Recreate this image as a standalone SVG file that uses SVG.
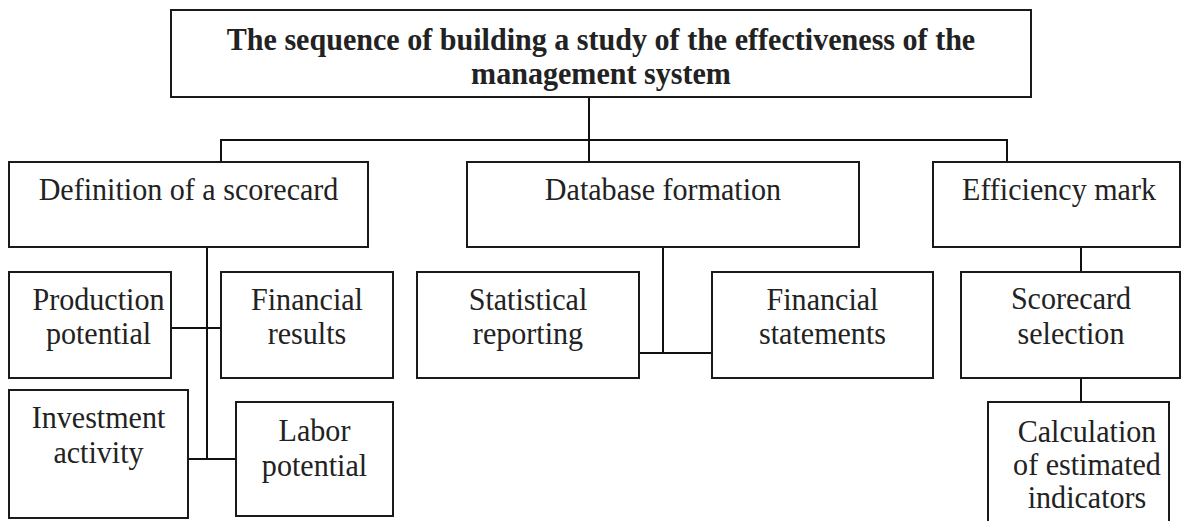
<svg xmlns="http://www.w3.org/2000/svg" width="1182" height="521" viewBox="0 0 1182 521">
  <style>
    .box { fill: #ffffff; stroke: #1a1a1a; stroke-width: 2; }
    .link { fill: none; stroke: #111111; stroke-width: 2; }
    .label { font-family: "Liberation Serif", "Times New Roman", serif; font-size: 32px; fill: #222222; text-anchor: middle;
             transform: scaleX(0.94); transform-box: fill-box; transform-origin: center; }
    .title { font-weight: bold; }
  </style>
  <rect width="1182" height="521" fill="#ffffff"/>

  <!-- connectors -->
  <g id="connectors">
    <path class="link" d="M589,97 V162"/>
    <path class="link" d="M221,162 V140 H1007 V162"/>
    <path class="link" d="M207,247 V459"/>
    <path class="link" d="M171,328 H221"/>
    <path class="link" d="M188,459 H236"/>
    <path class="link" d="M663,247 V353"/>
    <path class="link" d="M639,353 H712"/>
    <path class="link" d="M1081,247 V272"/>
    <path class="link" d="M1081,378 V402"/>
  </g>

  <g id="title">
    <rect class="box" x="171" y="10" width="860" height="87"/>
    <text class="label title" x="601" y="50">The sequence of building a study of the effectiveness of the</text>
    <text class="label title" x="601" y="84">management system</text>
  </g>

  <g id="definition">
    <rect class="box" x="9" y="162" width="359" height="85"/>
    <text class="label" x="188.5" y="200">Definition of a scorecard</text>
  </g>

  <g id="database">
    <rect class="box" x="467" y="162" width="392" height="85"/>
    <text class="label" x="663" y="200">Database formation</text>
  </g>

  <g id="efficiency">
    <rect class="box" x="933" y="162" width="247" height="85"/>
    <text class="label" x="1059" y="200">Efficiency mark</text>
  </g>

  <g id="production">
    <rect class="box" x="9" y="272" width="162" height="106"/>
    <text class="label" x="98.5" y="310">Production</text>
    <text class="label" x="98.5" y="344">potential</text>
  </g>

  <g id="financial-results">
    <rect class="box" x="221" y="272" width="172" height="106"/>
    <text class="label" x="307" y="310">Financial</text>
    <text class="label" x="307" y="344">results</text>
  </g>

  <g id="statistical">
    <rect class="box" x="417" y="272" width="222" height="106"/>
    <text class="label" x="528" y="310">Statistical</text>
    <text class="label" x="528" y="344">reporting</text>
  </g>

  <g id="financial-statements">
    <rect class="box" x="712" y="272" width="221" height="106"/>
    <text class="label" x="822.5" y="310">Financial</text>
    <text class="label" x="822.5" y="344">statements</text>
  </g>

  <g id="scorecard-selection">
    <rect class="box" x="961" y="272" width="219" height="106"/>
    <text class="label" x="1071" y="309">Scorecard</text>
    <text class="label" x="1071" y="344">selection</text>
  </g>

  <g id="investment">
    <rect class="box" x="9" y="390" width="179" height="128"/>
    <text class="label" x="98.5" y="428">Investment</text>
    <text class="label" x="98.5" y="463">activity</text>
  </g>

  <g id="labor">
    <rect class="box" x="236" y="402" width="157" height="114"/>
    <text class="label" x="314.5" y="441">Labor</text>
    <text class="label" x="314.5" y="476">potential</text>
  </g>

  <g id="calculation">
    <rect class="box" x="988" y="402" width="181" height="130"/>
    <text class="label" x="1087" y="442">Calculation</text>
    <text class="label" x="1087" y="475">of estimated</text>
    <text class="label" x="1087" y="508">indicators</text>
  </g>
</svg>
